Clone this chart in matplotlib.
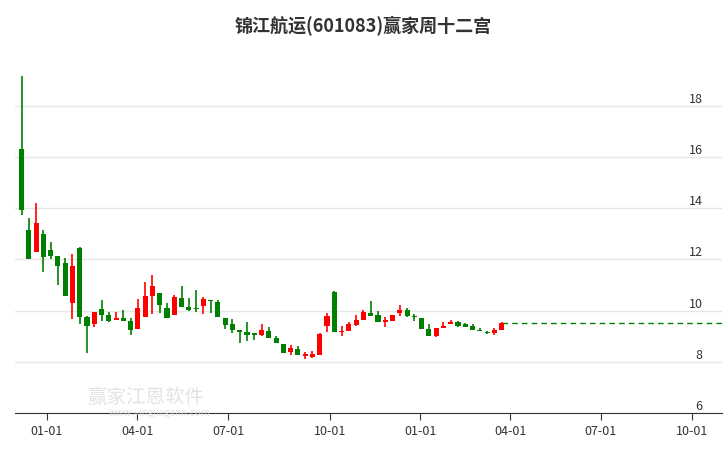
import numpy as np
from matplotlib import pyplot as plt

plt.rcParams['font.family'] = ['Noto Sans CJK SC', 'DejaVu Sans']

# Weekly candles (open, close, high, low)
opens = [16.32, 13.13, 12.28, 13.01, 12.35, 12.15, 11.88, 10.29, 12.46, 9.76,
         9.47, 10.08, 9.83, 9.63, 9.73, 9.61, 9.27, 9.74, 10.56, 10.67,
         10.12, 9.82, 10.51, 10.16, 10.12, 10.17, 10.43, 10.32, 9.72, 9.46,
         9.26, 9.18, 9.11, 9.04, 9.22, 8.95, 8.71, 8.37, 8.52, 8.23,
         8.21, 8.26, 9.39, 10.71, 9.16, 9.20, 9.43, 9.63, 9.89, 9.85,
         9.55, 9.59, 9.90, 10.04, 9.78, 9.72, 9.30, 9.00, 9.31, 9.49,
         9.57, 9.47, 9.41, 9.26, 9.18, 9.11, 9.25]
closes = [13.92, 12.03, 13.44, 12.09, 12.13, 11.73, 10.56, 11.76, 9.74, 9.39,
          9.95, 9.82, 9.59, 9.73, 9.59, 9.24, 10.12, 10.59, 10.98, 10.21,
          9.70, 10.55, 10.13, 10.02, 10.06, 10.47, 10.37, 9.74, 9.43, 9.24,
          9.16, 9.04, 9.06, 9.26, 8.95, 8.73, 8.36, 8.56, 8.26, 8.30,
          8.32, 9.07, 9.81, 9.17, 9.22, 9.46, 9.65, 9.93, 9.80, 9.55,
          9.65, 9.85, 10.04, 9.78, 9.77, 9.27, 9.00, 9.34, 9.41, 9.57,
          9.41, 9.35, 9.26, 9.20, 9.12, 9.26, 9.50]
highs = [19.18, 13.60, 14.22, 13.13, 12.70, 12.15, 12.07, 12.23, 12.50, 9.80,
         9.95, 10.43, 9.93, 9.93, 10.04, 9.73, 10.47, 11.10, 11.41, 10.67,
         10.28, 10.63, 10.98, 10.51, 10.79, 10.55, 10.43, 10.43, 9.72, 9.69,
         9.26, 9.57, 9.11, 9.46, 9.38, 9.03, 8.71, 8.66, 8.62, 8.40,
         8.42, 9.11, 9.89, 10.75, 9.41, 9.54, 9.85, 10.04, 10.36, 10.00,
         9.77, 9.85, 10.24, 10.12, 9.86, 9.72, 9.46, 9.34, 9.57, 9.62,
         9.60, 9.51, 9.46, 9.32, 9.22, 9.33, 9.57]
lows = [13.75, 12.03, 12.28, 11.50, 12.03, 11.02, 10.56, 9.66, 9.47, 8.34,
        9.35, 9.59, 9.55, 9.63, 9.59, 9.04, 9.27, 9.74, 9.86, 9.90,
        9.70, 9.82, 10.13, 9.98, 9.94, 9.86, 9.90, 9.74, 9.27, 9.12,
        8.73, 8.81, 8.84, 9.00, 8.92, 8.73, 8.33, 8.26, 8.26, 8.10,
        8.15, 8.26, 9.17, 9.17, 9.00, 9.20, 9.39, 9.63, 9.80, 9.55,
        9.35, 9.59, 9.78, 9.74, 9.59, 9.27, 9.00, 8.96, 9.31, 9.49,
        9.38, 9.35, 9.26, 9.20, 9.07, 9.05, 9.25]

# Quarter ticks on the trading-week axis
tick_pos = [3.5, 15.9, 28.4, 42.4, 54.8, 67.2, 79.6, 92.2]
tick_labels = ['01-01', '04-01', '07-01', '10-01', '01-01', '04-01', '07-01', '10-01']
y_ticks = [6, 8, 10, 12, 14, 16, 18]

fig = plt.figure(figsize=(7.26, 4.5), dpi=100)
ax = fig.add_axes([15 / 726, 0.082, 707 / 726, 0.774])

x = np.arange(len(opens))
for xi, o, c, h, l in zip(x, opens, closes, highs, lows):
    col = '#ff0000' if c > o else '#008000'
    ax.vlines(xi, l, h, color=col, linewidth=1.2, zorder=3)
    ax.bar(xi, max(abs(c - o), 0.04), bottom=min(o, c), width=0.7, color=col, zorder=4)

x_max = 96.3
# Dashed last-close line
ax.hlines(closes[-1], x[-1], x_max, color='#008000', linestyle=(0, (4, 3)),
          linewidth=1, zorder=2)

ax.set_xlim(-0.9, x_max)
ax.set_ylim(6, 19.6)
ax.set_xticks(tick_pos)
ax.set_xticklabels(tick_labels, fontsize=9, color='#333333')
ax.set_yticks(y_ticks)
ax.yaxis.tick_right()
ax.tick_params(axis='y', length=0, pad=-14, labelsize=9, labelcolor='#333333')
for lab in ax.get_yticklabels():
    lab.set_horizontalalignment('right')
    lab.set_verticalalignment('bottom')
ax.tick_params(axis='x', length=5, color='#333333')
ax.grid(axis='y', color='#e6e6e6', linewidth=1)
ax.set_axisbelow(True)
for s in ['top', 'left', 'right']:
    ax.spines[s].set_visible(False)
ax.spines['bottom'].set_color('#333333')

# Watermark
fig.text(0.12, 0.105, '赢家江恩软件', fontsize=14, color='#dddddd', alpha=0.8)
fig.text(0.15, 0.075, 'www.yingjiagann.com', fontsize=7, color='#dddddd', alpha=0.8)

fig.suptitle('锦江航运(601083)赢家周十二宫', y=0.965, fontsize=13, fontweight='bold', color='#333333')
fig.savefig('out.png', dpi=100)
